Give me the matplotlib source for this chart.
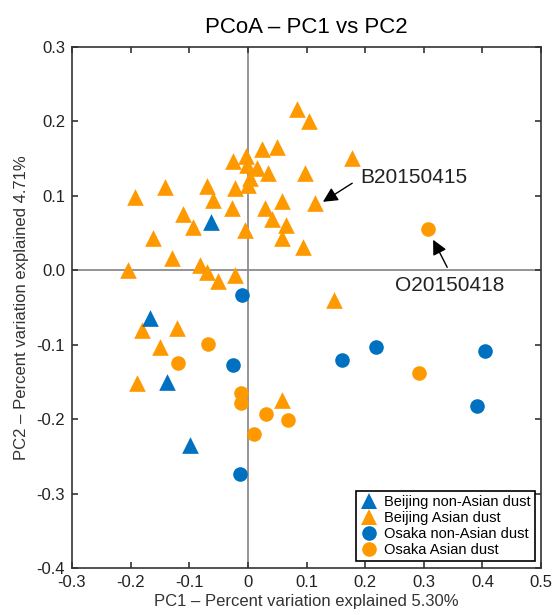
import matplotlib
matplotlib.use("Agg")
import matplotlib.pyplot as plt
from matplotlib.ticker import FixedLocator, FixedFormatter
from matplotlib.lines import Line2D

plt.rcParams['font.family'] = ['Liberation Sans', 'DejaVu Sans']

# Beijing Asian dust (orange triangles)
bj_asian_x = [0.084, 0.104, 0.178, 0.050, 0.024, -0.003, -0.025, -0.001, 0.016, 0.034,
              0.004, 0.098, 0.000, -0.022, -0.070, -0.141, -0.192, -0.059, -0.027, 0.029,
              0.058, 0.115, 0.041, 0.065, 0.058, 0.094, -0.005, -0.111, -0.094, -0.162,
              -0.129, -0.204, -0.082, -0.070, -0.051, -0.022, 0.147, -0.181, -0.121, -0.150,
              -0.189, 0.058]
bj_asian_y = [0.217, 0.201, 0.151, 0.166, 0.163, 0.153, 0.147, 0.141, 0.137, 0.131,
              0.124, 0.131, 0.115, 0.110, 0.113, 0.112, 0.098, 0.094, 0.084, 0.084,
              0.093, 0.090, 0.069, 0.061, 0.043, 0.031, 0.054, 0.076, 0.058, 0.043,
              0.016, 0.000, 0.007, -0.002, -0.015, -0.006, -0.040, -0.080, -0.078, -0.103,
              -0.152, -0.174]

# Beijing non-Asian dust (blue triangles)
bj_non_x = [-0.063, -0.167, -0.138, -0.099]
bj_non_y = [0.065, -0.064, -0.150, -0.235]

# Osaka non-Asian dust (blue circles)
os_non_x = [-0.010, -0.025, -0.013, 0.161, 0.219, 0.405, 0.391]
os_non_y = [-0.033, -0.127, -0.274, -0.121, -0.103, -0.109, -0.183]

# Osaka Asian dust (orange circles)
os_asian_x = [0.307, 0.292, 0.069, -0.068, -0.119, -0.012, -0.012, 0.031, 0.011]
os_asian_y = [0.055, -0.138, -0.201, -0.099, -0.125, -0.165, -0.178, -0.193, -0.220]

x_ticks = [-0.3, -0.2, -0.1, 0.0, 0.1, 0.2, 0.3, 0.4, 0.5]
x_tick_labels = ["-0.3", "-0.2", "-0.1", "0", "0.1", "0.2", "0.3", "0.4", "0.5"]
y_ticks = [-0.4, -0.3, -0.2, -0.1, 0.0, 0.1, 0.2, 0.3]
y_tick_labels = ["-0.4", "-0.3", "-0.2", "-0.1", "0.0", "0.1", "0.2", "0.3"]

BLUE = "#0070C0"
ORANGE = "#FF9900"

fig = plt.figure(figsize=(5.55, 6.15), dpi=100)
ax = fig.add_axes([72/555, 1-568/615, (541-72)/555, (568-47)/615])

ax.axhline(0, color="#8c8c8c", lw=1.3, zorder=1)
ax.axvline(0, color="#8c8c8c", lw=1.3, zorder=1)

tri_ms = 12
cir_ms = 10.5
ax.scatter(bj_asian_x, bj_asian_y, marker="^", s=tri_ms**2, color=ORANGE, linewidths=0, zorder=3)
ax.scatter(os_asian_x, os_asian_y, marker="o", s=cir_ms**2, color=ORANGE, linewidths=0, zorder=3)
ax.scatter(os_non_x, os_non_y, marker="o", s=cir_ms**2, color=BLUE, linewidths=0, zorder=4)
ax.scatter(bj_non_x, bj_non_y, marker="^", s=tri_ms**2, color=BLUE, linewidths=0, zorder=4)

ax.set_xlim(-0.3, 0.5)
ax.set_ylim(-0.4, 0.3)
ax.xaxis.set_major_locator(FixedLocator(x_ticks))
ax.xaxis.set_major_formatter(FixedFormatter(x_tick_labels))
ax.yaxis.set_major_locator(FixedLocator(y_ticks))
ax.yaxis.set_major_formatter(FixedFormatter(y_tick_labels))
ax.tick_params(direction="in", top=True, right=True, length=4, width=1.2,
               labelsize=12, color="#333333", labelcolor="#222222", pad=5)
for sp in ax.spines.values():
    sp.set_linewidth(1.2)
    sp.set_color("#333333")

ax.set_title("PCoA – PC1 vs PC2", fontsize=16, pad=10)
ax.set_xlabel("PC1 – Percent variation explained 5.30%", fontsize=12, labelpad=3, color="#333333")
ax.set_ylabel("PC2 – Percent variation explained 4.71%", fontsize=12, labelpad=5, color="#333333")

arrow_kw = dict(arrowstyle="-|>", color="black", lw=1.0, mutation_scale=22, shrinkA=0, shrinkB=0)
ax.text(0.191, 0.124, "B20150415", fontsize=15, va="center", ha="left", color="#222222")
ax.annotate("", xy=(0.128, 0.092), xytext=(0.178, 0.117), arrowprops=arrow_kw)
ax.text(0.251, -0.021, "O20150418", fontsize=15, va="center", ha="left", color="#222222")
ax.annotate("", xy=(0.316, 0.041), xytext=(0.340, 0.004), arrowprops=arrow_kw)

handles = [
    Line2D([], [], marker="^", ls="", color=BLUE, markersize=tri_ms, markeredgewidth=0),
    Line2D([], [], marker="^", ls="", color=ORANGE, markersize=tri_ms, markeredgewidth=0),
    Line2D([], [], marker="o", ls="", color=BLUE, markersize=cir_ms, markeredgewidth=0),
    Line2D([], [], marker="o", ls="", color=ORANGE, markersize=cir_ms, markeredgewidth=0),
]
labels = ["Beijing non-Asian dust", "Beijing Asian dust", "Osaka non-Asian dust", "Osaka Asian dust"]
leg = ax.legend(handles, labels, loc="lower right", bbox_to_anchor=(535/555, 1-561/615),
                bbox_transform=fig.transFigure, fontsize=10.5, fancybox=False, framealpha=1,
                edgecolor="black", handlelength=1.2, handletextpad=0.4, borderpad=0.3,
                labelspacing=0.12, borderaxespad=0)
leg.get_frame().set_linewidth(1.2)
leg.set_zorder(10)

fig.savefig("out.png", dpi=100)
